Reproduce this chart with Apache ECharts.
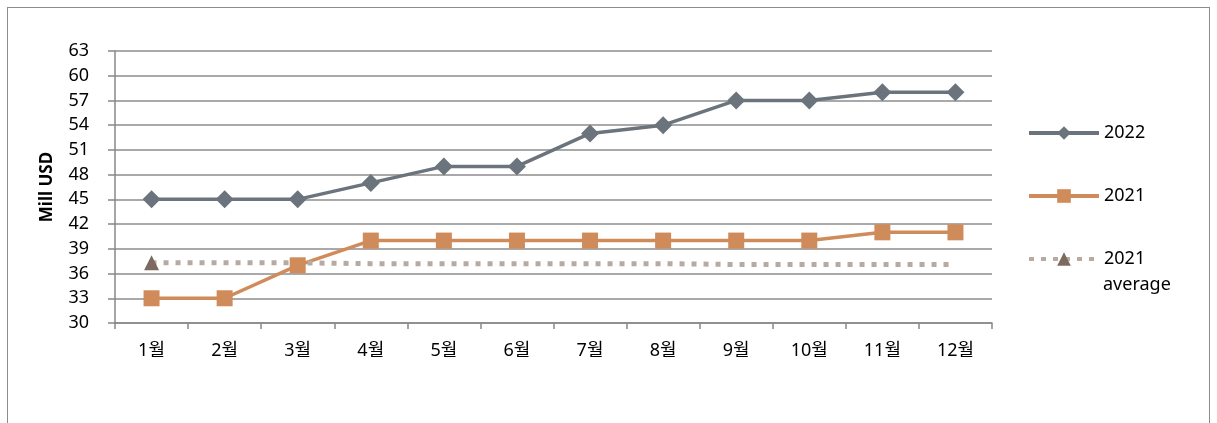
<!DOCTYPE html>
<html lang="ko">
    <head>
        <meta charset="UTF-8" />
        <title>Mill USD 2021 vs 2022</title>
        <script src="https://cdn.jsdelivr.net/npm/echarts@6/dist/echarts.min.js"></script>
        <style>
            html, body { margin: 0; padding: 0; background: #fff; }
            #frame {
                position: absolute; left: 7px; top: 7px; width: 1203px; height: 430px;
                border: 1px solid #8c8c8c; box-sizing: border-box;
            }
            #chart { position: absolute; left: 0; top: 0; width: 1217px; height: 423px; }
        </style>
    </head>
    <body>
        <div id="frame"></div>
        <div id="chart"></div>
        <script>
            const months = ["1월", "2월", "3월", "4월", "5월", "6월", "7월", "8월", "9월", "10월", "11월", "12월"];
            const sales2022 = [45, 45, 45, 47, 49, 49, 53, 54, 57, 57, 58, 58];
            const sales2021 = [33, 33, 37, 40, 40, 40, 40, 40, 40, 40, 41, 41];
            const avg2021 = [37.3, 37.3, 37.3, 37.2, 37.2, 37.2, 37.2, 37.2, 37.1, 37.1, 37.1, 37.1];
            const yTicks = { min: 30, max: 63, step: 3 };

            const font = "'Noto Sans', 'Noto Sans CJK KR', sans-serif";
            const chart = echarts.init(document.getElementById("chart"));

            //marker only on the first point of the average line
            const avgData = avg2021.map((v, i) => i === 0 ? { value: v, symbol: "triangle", symbolSize: 15 } : { value: v, symbol: "none" });

            chart.setOption({
                animation: false,
                textStyle: { fontFamily: font },
                grid: { left: 115, right: 225, top: 51, bottom: 100 },
                legend: {
                    orient: "vertical",
                    left: 1022,
                    top: 116,
                    itemGap: 39,
                    itemWidth: 70,
                    itemHeight: 17,
                    textStyle: { fontSize: 18, color: "#000", fontFamily: font, lineHeight: 24 },
                    formatter: name => name === "2021 average" ? "2021" : name,
                    data: [
                        { name: "2022", lineStyle: { width: 4 } },
                        { name: "2021", lineStyle: { width: 4 } },
                        { name: "2021 average", lineStyle: { width: 4 } }
                    ]
                },
                graphic: [{
                    type: "text",
                    left: 1103,
                    top: 276,
                    style: { text: "average", fontSize: 18, fontFamily: font, fill: "#000" }
                }],
                xAxis: {
                    type: "category",
                    data: months,
                    boundaryGap: true,
                    axisLine: { lineStyle: { color: "#888", width: 1.5 } },
                    axisTick: { show: true, length: 6, lineStyle: { color: "#888", width: 1.5 } },
                    axisLabel: { color: "#000", fontSize: 18, margin: 19, fontFamily: font }
                },
                yAxis: {
                    type: "value",
                    min: yTicks.min,
                    max: yTicks.max,
                    interval: yTicks.step,
                    name: "Mill USD",
                    nameLocation: "middle",
                    nameGap: 59,
                    nameRotate: 90,
                    nameTextStyle: { fontWeight: "bold", fontSize: 17, color: "#000", fontFamily: font },
                    axisLine: { show: true, lineStyle: { color: "#888", width: 1.5 } },
                    axisTick: { show: true, length: 7, lineStyle: { color: "#888", width: 1.5 } },
                    axisLabel: { color: "#000", fontSize: 18, margin: 26, fontFamily: font },
                    splitLine: { lineStyle: { color: "#8c8c8c", width: 1.5 } }
                },
                series: [
                    {
                        name: "2022",
                        type: "line",
                        data: sales2022,
                        symbol: "diamond",
                        symbolSize: [18, 18],
                        itemStyle: { color: "#6b747c" },
                        lineStyle: { color: "#6b747c", width: 3.5 }
                    },
                    {
                        name: "2021",
                        type: "line",
                        data: sales2021,
                        symbol: "rect",
                        symbolSize: 16,
                        itemStyle: { color: "#d08b5b" },
                        lineStyle: { color: "#d08b5b", width: 3.5 }
                    },
                    {
                        name: "2021 average",
                        type: "line",
                        data: avgData,
                        symbol: "triangle",
                        symbolSize: 15,
                        itemStyle: { color: "#7c6a5e" },
                        lineStyle: { color: "#b6aaa2", width: 5, type: [5, 7] }
                    }
                ]
            });
        </script>
    </body>
</html>
